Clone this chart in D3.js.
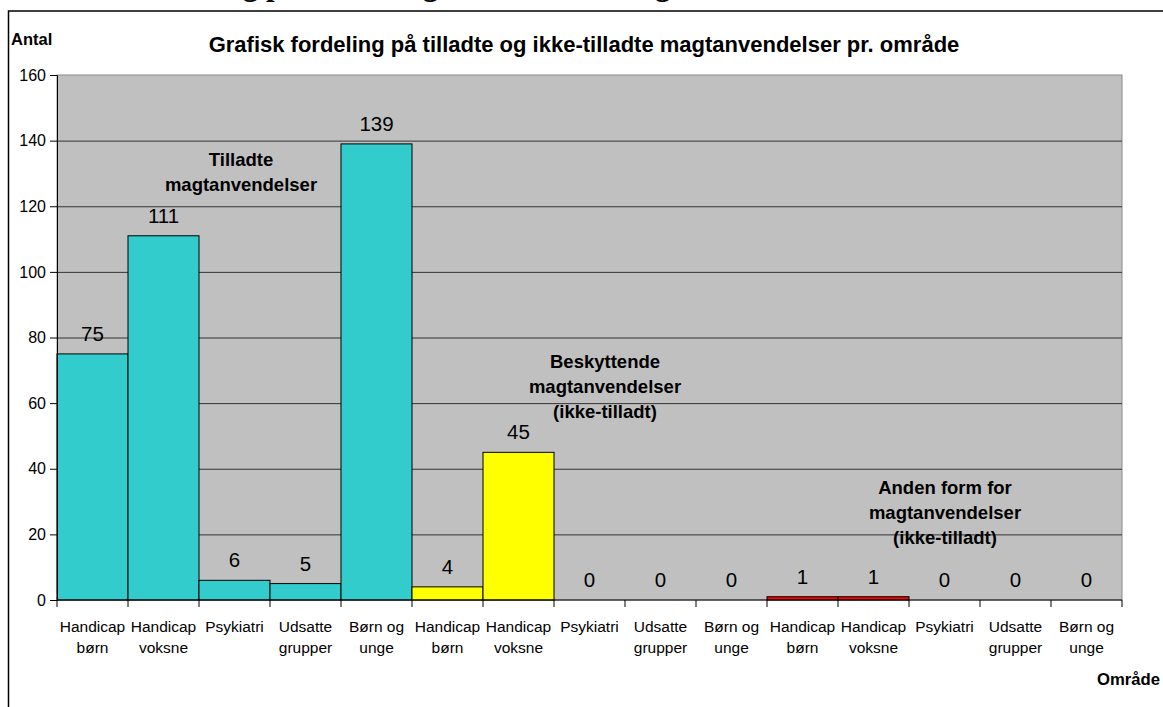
<!DOCTYPE html>
<html>
<head>
<meta charset="utf-8">
<script src="https://cdn.jsdelivr.net/npm/d3@7"></script>
<style>
  body { margin:0; background:#fff; }
  svg text { font-family: Arial, "Liberation Sans", sans-serif; }
</style>
</head>
<body>
<div id="chart"></div>
<script>
// data
const areaLabels = ["Handicap\nbørn","Handicap\nvoksne","Psykiatri","Udsatte\ngrupper","Børn og\nunge",
                    "Handicap\nbørn","Handicap\nvoksne","Psykiatri","Udsatte\ngrupper","Børn og\nunge",
                    "Handicap\nbørn","Handicap\nvoksne","Psykiatri","Udsatte\ngrupper","Børn og\nunge"]
const groups = ["tilladt","tilladt","tilladt","tilladt","tilladt",
                "beskyttende","beskyttende","beskyttende","beskyttende","beskyttende",
                "anden","anden","anden","anden","anden"]
const values = [75,111,6,5,139, 4,45,0,0,0, 1,1,0,0,0]
const yTicks = [0,20,40,60,80,100,120,140,160]
const groupNames = ["tilladt","beskyttende","anden"]
const groupNotes = [
  ["Tilladte","magtanvendelser"],
  ["Beskyttende","magtanvendelser","(ikke-tilladt)"],
  ["Anden form for","magtanvendelser","(ikke-tilladt)"]
]

function render(){
  let width = 1163,
      height = 707,
      margin = { top:75, left:57, right:41, bottom:107 },
      innerWidth = width - margin.left - margin.right,
      innerHeight = height - margin.top - margin.bottom

  const data = values.map((v,i) => ({ i:i, value:v, label:areaLabels[i], group:groups[i] }))

  let color = d3.scaleOrdinal().domain(groupNames).range(["#33cccc","#ffff00","#ff0000"])
  let xScale = d3.scaleBand().domain(data.map(d => d.i)).range([0,innerWidth]).padding(0)
  let yScale = d3.scaleLinear().domain([0,160]).range([innerHeight,0])

  let svg = d3.select("#chart").append("svg")
    .attr("width",width).attr("height",height)

  // cut-off heading of the page above the chart
  svg.append("text")
    .attr("x",129).attr("y",-5)
    .attr("font-weight","bold").attr("font-size",31)
    .style("font-family","'Liberation Serif','Times New Roman',serif")
    .text("Fordeling på tilladte og ikke-tilladte magtanvendelser")

  // chart frame
  svg.append("rect")
    .attr("x",8.5).attr("y",11).attr("width",width+20).attr("height",height+20)
    .attr("fill","#fff").attr("stroke","#000").attr("stroke-width",1.5)

  let g = svg.append("g").attr("transform",`translate(${margin.left},${margin.top})`)

  g.append("rect")
    .attr("width",innerWidth).attr("height",innerHeight)
    .attr("fill","#c0c0c0").attr("stroke","#8a8a8a")

  // grid
  g.selectAll(".grid").data(yTicks.filter(t => t > 0 && t < 160)).enter().append("line")
    .attr("x1",0).attr("x2",innerWidth)
    .attr("y1",d => yScale(d)+0.5).attr("y2",d => yScale(d)+0.5)
    .attr("stroke","#333").attr("stroke-width",1)

  // bars
  g.selectAll(".bar").data(data.filter(d => d.value > 0)).enter().append("rect")
    .attr("x",d => xScale(d.i))
    .attr("y",d => yScale(d.value))
    .attr("width",xScale.bandwidth())
    .attr("height",d => innerHeight - yScale(d.value))
    .attr("fill",d => color(d.group))
    .attr("stroke","#000").attr("stroke-width",1)

  // value labels
  g.selectAll(".val").data(data).enter().append("text")
    .attr("x",d => xScale(d.i) + xScale.bandwidth()/2)
    .attr("y",d => yScale(d.value) - 13)
    .attr("text-anchor","middle").attr("font-size",20.5).attr("fill","#000")
    .text(d => d.value)

  // y axis
  let yAxis = d3.axisLeft(yScale).tickValues(yTicks).tickSize(7).tickPadding(4)
  let yGroup = g.append("g").call(yAxis)
  yGroup.select(".domain").attr("stroke","#000")
  yGroup.selectAll("text").attr("font-size",16).attr("fill","#000")
  yGroup.selectAll("line").attr("stroke","#000")

  // x axis
  g.append("line").attr("x1",0).attr("x2",innerWidth)
    .attr("y1",innerHeight).attr("y2",innerHeight).attr("stroke","#000")
  g.selectAll(".xtick").data(d3.range(data.length+1)).enter().append("line")
    .attr("x1",d => d < data.length ? xScale(d) : innerWidth)
    .attr("x2",d => d < data.length ? xScale(d) : innerWidth)
    .attr("y1",innerHeight).attr("y2",innerHeight+7)
    .attr("stroke","#000")
  let xl = g.selectAll(".xl").data(data).enter().append("text")
    .attr("text-anchor","middle").attr("font-size",15.5).attr("fill","#000")
    .attr("transform",d => `translate(${xScale(d.i)+xScale.bandwidth()/2},${innerHeight+32})`)
  xl.selectAll("tspan").data(d => d.label.split("\n")).enter().append("tspan")
    .attr("x",0).attr("dy",(d,i) => i === 0 ? 0 : 21).text(d => d)

  // group notes
  const noteAnchor = [[241,166],[605,368],[945,494]]
  groupNotes.forEach((lines,k) => {
    let t = svg.append("text").attr("text-anchor","middle")
      .attr("font-size",18.5).attr("font-weight","bold").attr("fill","#000")
      .attr("transform",`translate(${noteAnchor[k][0]},${noteAnchor[k][1]})`)
    t.selectAll("tspan").data(lines).enter().append("tspan")
      .attr("x",0).attr("dy",(d,i) => i === 0 ? 0 : 25).text(d => d)
  })

  // titles
  svg.append("text").attr("x",584).attr("y",52).attr("text-anchor","middle")
    .attr("font-size",22).attr("font-weight","bold").attr("fill","#000")
    .text("Grafisk fordeling på tilladte og ikke-tilladte magtanvendelser pr. område")
  svg.append("text").attr("x",11).attr("y",45)
    .attr("font-size",16.5).attr("font-weight","bold").attr("fill","#000").text("Antal")
  svg.append("text").attr("x",1160).attr("y",685).attr("text-anchor","end")
    .attr("font-size",16.7).attr("font-weight","bold").attr("fill","#000").text("Område")
}

render()
</script>
</body>
</html>
